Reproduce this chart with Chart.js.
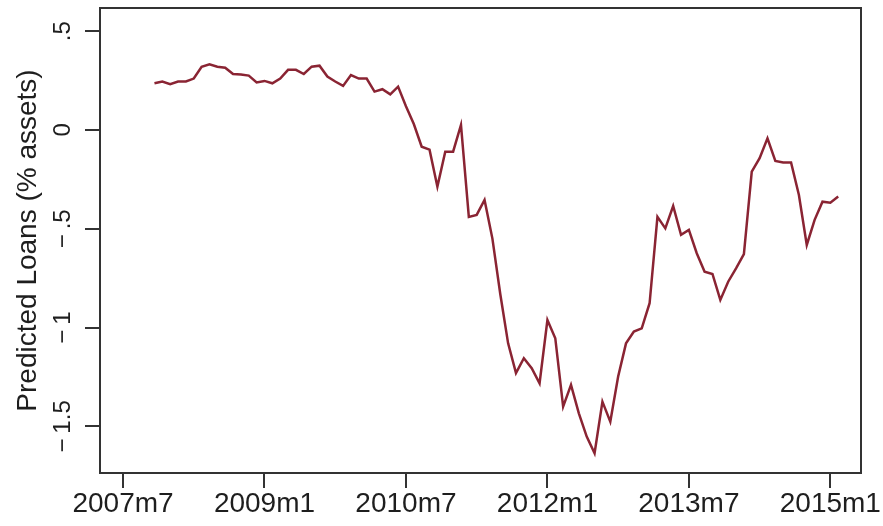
<!DOCTYPE html>
<html>
<head>
<meta charset="utf-8">
<script src="https://cdn.jsdelivr.net/npm/chart.js@4"></script>
<style>
  body { margin: 0; background: #fff; }
  canvas { display: block; }
</style>
</head>
<body>
<canvas id="myChart" width="883" height="526"></canvas>
<script>
// months are counted from 2007m7 (= 0)
const firstMonth = 4; // 2007m11
const loans = [
  0.236, 0.245, 0.231, 0.245, 0.245, 0.26, 0.32, 0.332, 0.32, 0.315,
  0.283, 0.28, 0.275, 0.24, 0.248, 0.236, 0.26, 0.304, 0.304, 0.283,
  0.32, 0.325, 0.27, 0.245, 0.223, 0.278, 0.26, 0.26, 0.194, 0.206,
  0.18, 0.219, 0.12, 0.03, -0.085, -0.10, -0.287, -0.11, -0.11, 0.025,
  -0.44, -0.43, -0.354, -0.55, -0.83, -1.08, -1.23, -1.155, -1.206, -1.282,
  -0.962, -1.054, -1.40, -1.29, -1.434, -1.552, -1.636, -1.375, -1.476, -1.248,
  -1.08, -1.02, -1.004, -0.877, -0.44, -0.498, -0.385, -0.531, -0.506, -0.624,
  -0.717, -0.729, -0.86, -0.768, -0.70, -0.628, -0.211, -0.143, -0.042, -0.157,
  -0.165, -0.165, -0.329, -0.582, -0.455, -0.363, -0.368, -0.337
];
const xTickMonths = [0, 18, 36, 54, 72, 90];
const xTickLabels = ['2007m7', '2009m1', '2010m7', '2012m1', '2013m7', '2015m1'];
const yTickValues = [-1.5, -1, -0.5, 0, 0.5];
const yTickLabels = ['\u2212\u20091.5', '\u2212\u20091', '\u2212\u2009.5', '0', '.5'];
const yTitle = 'Predicted Loans (% assets)';

const points = loans.map((v, i) => ({ x: firstMonth + i, y: v }));
const ink = '#1e1e1e';

// tick labels, title and the box are drawn by hand (rotated y labels)
const textPlugin = {
  id: 'stataText',
  afterDraw(chart) {
    const ctx = chart.ctx;
    const a = chart.chartArea;
    const xs = chart.scales.x, ys = chart.scales.y;
    ctx.save();
    ctx.strokeStyle = '#333';
    ctx.lineWidth = 2;
    ctx.strokeRect(a.left, a.top, a.right - a.left, a.bottom - a.top);

    ctx.fillStyle = ink;
    ctx.textAlign = 'center';
    ctx.textBaseline = 'middle';
    ctx.font = '28px "Liberation Sans", Arial, sans-serif';
    xTickMonths.forEach((m, i) => {
      ctx.fillText(xTickLabels[i], xs.getPixelForValue(m), 504);
    });

    ctx.font = '24px "Liberation Sans", Arial, sans-serif';
    yTickValues.forEach((v, i) => {
      ctx.save();
      ctx.translate(63, ys.getPixelForValue(v));
      ctx.rotate(-Math.PI / 2);
      ctx.fillText(yTickLabels[i], 0, 0);
      ctx.restore();
    });

    ctx.font = '28px "Liberation Sans", Arial, sans-serif';
    ctx.translate(28, (a.top + a.bottom) / 2);
    ctx.rotate(-Math.PI / 2);
    ctx.fillText(yTitle, 0, 0);
    ctx.restore();
  }
};

const ctx = document.getElementById('myChart').getContext('2d');
const chart = new Chart(ctx, {
  type: 'line',
  data: {
    datasets: [{
      label: yTitle,
      data: points,
      borderColor: '#8a2433',
      borderWidth: 2.5,
      pointRadius: 0,
      tension: 0,
      fill: false
    }]
  },
  options: {
    responsive: false,
    animation: false,
    devicePixelRatio: 1,
    layout: { padding: { top: 8, right: 22, left: 0, bottom: 0 } },
    plugins: { legend: { display: false }, tooltip: { enabled: false } },
    scales: {
      x: {
        type: 'linear',
        min: -2.93,
        max: 93.9,
        afterBuildTicks: s => { s.ticks = xTickMonths.map(v => ({ value: v })); },
        afterFit: s => { s.height = 53; },
        ticks: { display: false },
        grid: { drawOnChartArea: false, drawTicks: true, tickLength: 15, color: '#333', lineWidth: 2 },
        border: { display: true, color: '#333', width: 2 }
      },
      y: {
        min: -1.736,
        max: 0.617,
        afterBuildTicks: s => { s.ticks = yTickValues.map(v => ({ value: v })); },
        afterFit: s => { s.width = 100; },
        ticks: { display: false },
        grid: { drawOnChartArea: false, drawTicks: true, tickLength: 15, color: '#333', lineWidth: 2 },
        border: { display: true, color: '#333', width: 2 }
      }
    }
  },
  plugins: [textPlugin]
});
</script>
</body>
</html>
